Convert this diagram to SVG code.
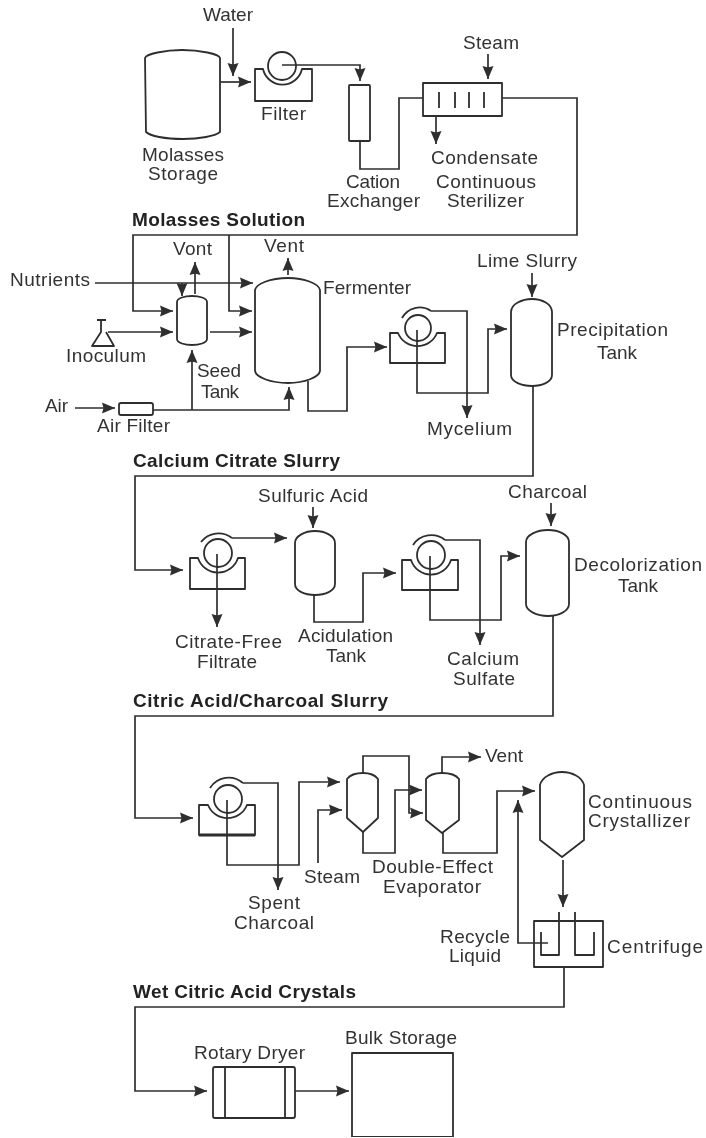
<svg xmlns="http://www.w3.org/2000/svg" width="706" height="1138" viewBox="0 0 706 1138">
<style>
.s{fill:none;stroke:#2e2e2e;stroke-width:1.8;stroke-linejoin:round}
.c{fill:none;stroke:#2e2e2e;stroke-width:1.7;stroke-linejoin:miter}
.a{marker-end:url(#arrow)}
text{font-family:"Liberation Sans",Arial,sans-serif;font-size:19px;fill:#333}
.b{font-weight:bold;fill:#222}
</style>
<defs>
<marker id="arrow" markerUnits="userSpaceOnUse" markerWidth="15" markerHeight="13" refX="13" refY="6.5" orient="auto"><path d="M0,1 L13,6.5 L0,12 L1.5,6.5 Z" fill="#2e2e2e"/></marker>
<filter id="soft" x="0" y="0" width="100%" height="100%"><feGaussianBlur stdDeviation="0.55"/></filter>
</defs>
<rect width="706" height="1138" fill="#fff"/>
<g filter="url(#soft)">
<g id="connectors">
<path class="c a" d="M233,28 V76"/>
<path class="c a" d="M220,82 H251"/>
<path class="c a" d="M282,65 H360 V81"/>
<path class="c" d="M360,141 V169 H399 V98 H423"/>
<path class="c a" d="M488,54 V79"/>
<path class="c a" d="M436,116 V144"/>
<path class="c a" d="M502,98 H577 V235 H133 V311 H173"/>
<path class="c a" d="M229,235 V311 H252"/>
<path class="c a" d="M95,283 H253"/>
<path class="c a" d="M182,283 V296"/>
<path class="c a" d="M195,294 V262"/>
<path class="c a" d="M288,275 V258"/>
<path class="c a" d="M108,332 H173"/>
<path class="c a" d="M210,332 H252"/>
<path class="c a" d="M75,408 H115"/>
<path class="c a" d="M153,410 H289 V387"/>
<path class="c a" d="M192,410 V350"/>
<path class="c a" d="M308,381 V411 H347 V347 H387"/>
<path class="c a" d="M431,311 H467 V418"/>
<path class="c a" d="M417,330 V393 H488 V329 H507"/>
<path class="c a" d="M532,273 V297"/>
<path class="c a" d="M533,386 V476 H135 V570 H183"/>
<path class="c a" d="M232,538 H287"/>
<path class="c a" d="M217,554 V627"/>
<path class="c a" d="M313,507 V528"/>
<path class="c a" d="M314,595 V622 H363 V573 H396"/>
<path class="c a" d="M445,540 H480 V645"/>
<path class="c a" d="M430,556 V620 H501 V556 H520"/>
<path class="c a" d="M551,503 V526"/>
<path class="c a" d="M553,616 V716 H135 V818 H193"/>
<path class="c a" d="M243,783 H278 V890"/>
<path class="c a" d="M227,800 V865 H299 V782 H340"/>
<path class="c a" d="M318,863 V810 H342"/>
<path class="c a" d="M363,773 V756 H409 V813 H423"/>
<path class="c a" d="M363,832 V853 H395 V790 H422"/>
<path class="c a" d="M442,773 V757 H481"/>
<path class="c a" d="M443,833 V853 H497 V791 H535"/>
<path class="c a" d="M563,860 V907"/>
<path class="c a" d="M548,943 H518 V800"/>
<path class="c a" d="M564,967 V1007 H135 V1091 H207"/>
<path class="c a" d="M295,1091 H349"/>
</g>
<g id="molasses-storage"><path class="s" d="M145,58 C146,54 165,50 182,50 C200,50 219,54 220,58 V132 C215,136 200,139 183,139 C165,139 150,136 146,132 Z"/><text x="142" y="161" textLength="82">Molasses</text><text x="148" y="180" textLength="70">Storage</text></g>
<g id="filter-1"><path class="s" d="M255,69 H263 A20,20 0 0 0 302,69 H312 V101 H255 Z"/><circle class="s" cx="282" cy="66" r="14"/><text x="261" y="120" textLength="45">Filter</text></g>
<g id="cation-exchanger"><rect class="s" x="349" y="85" width="21" height="56" rx="1"/><text x="346" y="188" textLength="54">Cation</text><text x="327" y="207" textLength="93">Exchanger</text></g>
<g id="continuous-sterilizer"><rect class="s" x="423" y="83" width="79" height="33"/><path class="s" d="M439,92 V108 M455,92 V108 M469,92 V108 M484,92 V108"/><text x="436" y="188" textLength="100">Continuous</text><text x="447" y="207" textLength="77">Sterilizer</text></g>
<g id="seed-tank"><path class="s" d="M177,302 C177,298 185,296 192,296 C199,296 207,298 207,302 V339 C207,343 199,345 192,345 C185,345 177,343 177,339 Z"/><text x="197" y="377" textLength="44">Seed</text><text x="201" y="398" textLength="38">Tank</text></g>
<g id="inoculum"><path class="s" d="M97,320 H106 M101,320 V332 L92,346 H114 L106,332"/><text x="66" y="362" textLength="80">Inoculum</text></g>
<g id="air-filter"><rect class="s" x="119" y="403" width="34" height="12" rx="2"/><text x="97" y="432" textLength="73">Air Filter</text></g>
<g id="fermenter"><path class="s" d="M255,290 C256,284 270,278 288,278 C305,278 319,284 320,290 V371 C319,377 305,383 288,383 C270,383 256,377 255,371 Z"/><text x="323" y="294" textLength="88">Fermenter</text></g>
<g id="filter-2"><path class="s" d="M390,333 H398 A21,21 0 0 0 437,333 H445 V363 H390 Z"/><circle class="s" cx="418" cy="328" r="13"/><path class="s" d="M402,318 A20,20 0 0 1 431,311"/></g>
<g id="precipitation-tank"><path class="s" d="M511,312 C511,304 522,299 532,299 C542,299 552,304 552,312 V375 C552,382 542,386 532,386 C522,386 511,382 511,375 Z"/><text x="557" y="336" textLength="111">Precipitation</text><text x="597" y="359" textLength="40">Tank</text></g>
<g id="filter-3"><path class="s" d="M190,558 H198 A21,21 0 0 0 238,558 H245 V589 H190 Z"/><circle class="s" cx="218" cy="553" r="14"/><path class="s" d="M201,542 A22,22 0 0 1 232,538"/></g>
<g id="acidulation-tank"><path class="s" d="M295,543 C295,536 305,531 315,531 C325,531 335,536 335,543 V584 C335,591 325,595 315,595 C305,595 295,591 295,584 Z"/><text x="298" y="642" textLength="95">Acidulation</text><text x="326" y="662" textLength="40">Tank</text></g>
<g id="filter-4"><path class="s" d="M402,560 H411 A21,21 0 0 0 451,560 H458 V590 H402 Z"/><circle class="s" cx="431" cy="555" r="14"/><path class="s" d="M413,545 A22,22 0 0 1 445,540"/></g>
<g id="decolorization-tank"><path class="s" d="M526,542 C526,535 537,530 548,530 C559,530 569,535 569,542 V604 C569,611 559,616 548,616 C537,616 526,611 526,604 Z"/><text x="574" y="571" textLength="128">Decolorization</text><text x="618" y="592" textLength="40">Tank</text></g>
<g id="filter-5"><path class="s" d="M199,805 H208 A21,21 0 0 0 247,805 H255 V835 H199 Z"/><path class="s" d="M199,835 H255" style="stroke-width:3"/><circle class="s" cx="228" cy="799" r="14"/><path class="s" d="M210,788 A22,22 0 0 1 243,783"/></g>
<g id="evaporator-1"><path class="s" d="M347,779 C350,775 356,773 363,773 C370,773 375,775 378,779 V818 L363,832 L347,818 Z"/></g>
<g id="evaporator-2"><path class="s" d="M426,779 C429,775 435,773 442,773 C449,773 456,775 459,779 V820 L442,833 L426,820 Z"/><text x="372" y="873" textLength="121">Double-Effect</text><text x="383" y="893" textLength="98">Evaporator</text></g>
<g id="continuous-crystallizer"><path class="s" d="M540,785 C542,777 552,772 562,772 C572,772 582,777 584,785 V840 L562,857 L540,840 Z"/><text x="588" y="808" textLength="104">Continuous</text><text x="588" y="827" textLength="102">Crystallizer</text></g>
<g id="centrifuge"><rect class="s" x="534" y="921" width="69" height="46"/><path class="s" d="M541,932 V955 H559 V912 M575,912 V955 H594 V932"/><text x="607" y="953" textLength="96">Centrifuge</text></g>
<g id="rotary-dryer"><rect class="s" x="213" y="1067" width="82" height="51" rx="2"/><path class="s" d="M225,1067 V1118 M285,1067 V1118"/><text x="194" y="1059" textLength="111">Rotary Dryer</text></g>
<g id="bulk-storage"><path class="s" d="M352,1137 V1053 H453 V1137 Z"/><text x="345" y="1044" textLength="112">Bulk Storage</text></g>
<g id="labels">
<text x="203" y="21" textLength="50">Water</text>
<text x="463" y="49" textLength="56">Steam</text>
<text x="431" y="164" textLength="107">Condensate</text>
<text class="b" x="132" y="226" textLength="173">Molasses Solution</text>
<text x="173" y="255" textLength="39">Vont</text>
<text x="264" y="252" textLength="40">Vent</text>
<text x="10" y="286" textLength="80">Nutrients</text>
<text x="45" y="412" textLength="23">Air</text>
<text x="477" y="267" textLength="100">Lime Slurry</text>
<text x="427" y="435" textLength="85">Mycelium</text>
<text class="b" x="133" y="467" textLength="207">Calcium Citrate Slurry</text>
<text x="258" y="502" textLength="110">Sulfuric Acid</text>
<text x="175" y="648" textLength="107">Citrate-Free</text>
<text x="197" y="668" textLength="60">Filtrate</text>
<text x="508" y="498" textLength="79">Charcoal</text>
<text x="447" y="665" textLength="72">Calcium</text>
<text x="453" y="685" textLength="62">Sulfate</text>
<text class="b" x="133" y="707" textLength="255">Citric Acid/Charcoal Slurry</text>
<text x="248" y="909" textLength="52">Spent</text>
<text x="234" y="929" textLength="80">Charcoal</text>
<text x="304" y="883" textLength="56">Steam</text>
<text x="485" y="762" textLength="38">Vent</text>
<text x="440" y="943" textLength="70">Recycle</text>
<text x="449" y="962" textLength="52">Liquid</text>
<text class="b" x="133" y="998" textLength="223">Wet Citric Acid Crystals</text>
</g>
</g>
</svg>
